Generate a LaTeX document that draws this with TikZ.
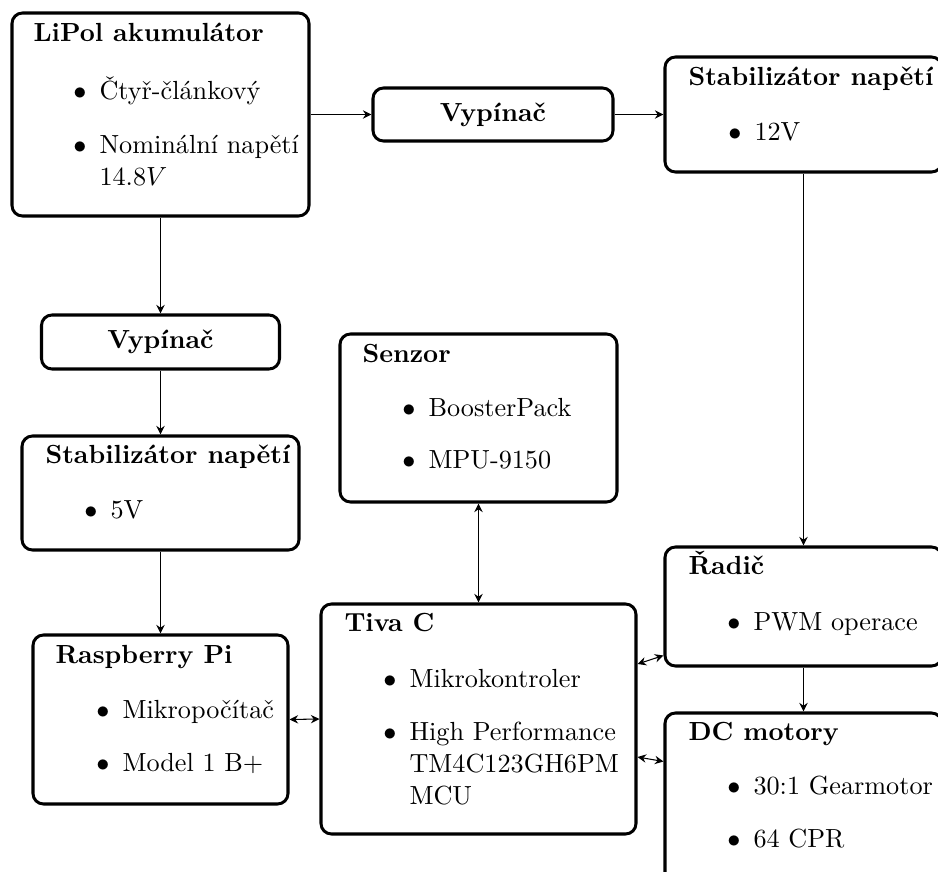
\documentclass[tikz,border=0pt]{standalone}
\usepackage{amssymb}
\usetikzlibrary{arrows.meta}
\newcommand\uu{0.3817pt}
\tikzset{
  blk/.style={draw, line width=1.15pt, rounded corners=4pt, inner sep=0pt},
  ttl/.style={anchor=base west, inner sep=0pt, font=\bfseries},
  itm/.style={anchor=base west, inner sep=0pt},
  conn/.style={line width=0.4pt},
  >={Stealth[length=3.3pt,width=3.2pt,inset=1.1pt]}
}
\newcommand\bx[5]{\node[blk, minimum width={(#4-#2)*\uu}, minimum height={(#5-#3)*\uu}] (#1) at ({(#2+#4)/2},{(#3+#5)/2}) {};}
\newcommand\itb{\llap{$\bullet$\hspace{5pt}}}
\begin{document}
\begin{tikzpicture}[x=\uu, y=-\uu]
\clip (0,0) rectangle (938,872);
% boxes
\bx{lipol}{12}{13}{309}{216}
\node[blk, minimum width={(613-373)*\uu}, minimum height={(141-88)*\uu}, font=\bfseries] (sw1) at (493,114.5) {Vypínač};
\bx{stabA}{665}{57}{942}{172}
\node[blk, minimum width={(279-41)*\uu}, minimum height={(369-315)*\uu}, font=\bfseries] (sw2) at (160.5,342) {Vypínač};
\bx{stabB}{22}{436}{299}{550}
\bx{senzor}{340}{334}{617}{502}
\bx{radic}{665}{547}{942}{666}
\bx{tiva}{321}{604}{636}{834}
\bx{rpi}{33}{635}{288}{804}
\bx{dc}{665}{713}{942}{900}
% titles
\node[ttl] (t1) at (33,41) {LiPol akumulátor};
\node[ttl] (t2) at (688,85) {Stabilizátor napětí};
\node[ttl] (t3) at (45,463) {Stabilizátor napětí};
\node[ttl] (t4) at (362,362) {Senzor};
\node[ttl] (t5) at (688,574) {Řadič};
\node[ttl] (t6) at (344,631) {Tiva C};
\node[ttl] (t7) at (55,663) {Raspberry Pi};
\node[ttl] (t8) at (688,740) {DC motory};
% items
\node[itm] (i1) at (99,99) {\itb Čtyř-článkový};
\node[itm] (i2) at (99,153) {\itb Nominální napětí};
\node[itm] (i3) at (99,185) {14.8$V$};
\node[itm] (i4) at (754,140) {\itb 12V};
\node[itm] (i5) at (110,518) {\itb 5V};
\node[itm] (i6) at (428,416) {\itb BoosterPack};
\node[itm] (i7) at (428,468) {\itb MPU-9150};
\node[itm] (i8) at (753,630) {\itb PWM operace};
\node[itm] (i9) at (409,687) {\itb Mikrokontroler};
\node[itm] (i10) at (409,740) {\itb High Performance};
\node[itm] (i11) at (409,772) {TM4C123GH6PM};
\node[itm] (i12) at (409,804) {MCU};
\node[itm] (i13) at (122,718) {\itb Mikropočítač};
\node[itm] (i14) at (122,771) {\itb Model 1 B+};
\node[itm] (i15) at (753,794) {\itb 30:1 Gearmotor};
\node[itm] (i16) at (753,847) {\itb 64 CPR};
% connectors
\draw[conn,->] (lipol.east) -- (sw1.west);
\draw[conn,->] (sw1.east) -- (stabA.west);
\draw[conn,->] (lipol.south) -- (sw2.north);
\draw[conn,->] (sw2.south) -- (stabB.north);
\draw[conn,->] (stabB.south) -- (rpi.north);
\draw[conn,->] (stabA.south) -- (radic.north);
\draw[conn,->] (radic.south) -- (dc.north);
\draw[conn,<->] (senzor.south) -- (tiva.north);
\draw[conn,<->] (rpi.east) -- (tiva.west);
\draw[conn,<->] ([yshift=55*\uu]tiva.east) -- ([yshift=-49*\uu]radic.west);
\draw[conn,<->] ([yshift=-38*\uu]tiva.east) -- ([yshift=-50*\uu]dc.north west);
\end{tikzpicture}
\end{document}
